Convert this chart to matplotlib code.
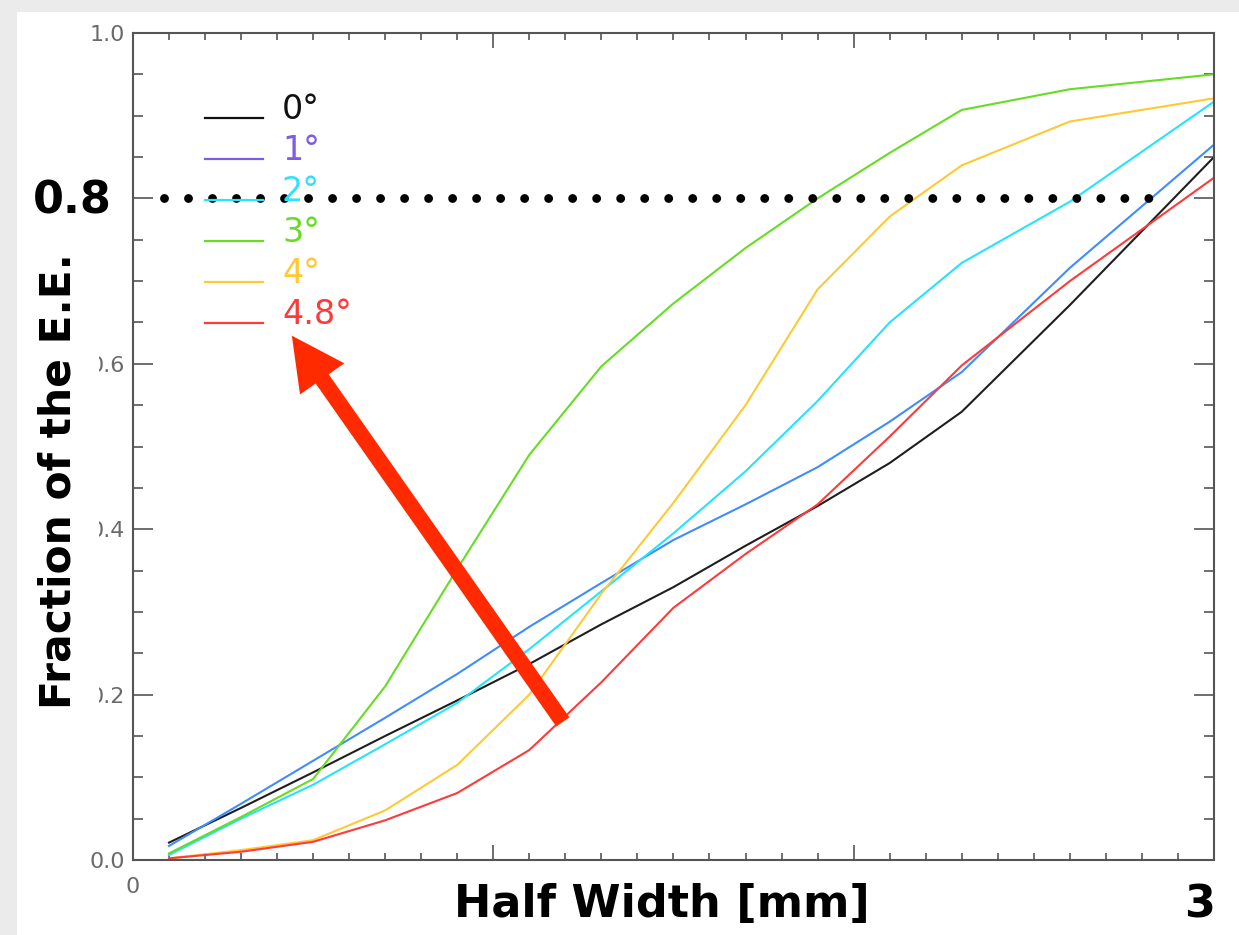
import numpy as np
import matplotlib
matplotlib.use("Agg")
import matplotlib.pyplot as plt
from matplotlib.lines import Line2D
from matplotlib.legend_handler import HandlerLine2D
from matplotlib.patches import Rectangle
from matplotlib.ticker import MultipleLocator

# ---------------- data ----------------
half_width = [0.1, 0.3, 0.5, 0.7, 0.9, 1.1, 1.3, 1.5, 1.7, 1.9, 2.1, 2.3, 2.6, 3.0]
ee_0deg = [0.021, 0.063, 0.106, 0.150, 0.193, 0.237, 0.285, 0.330, 0.380, 0.428, 0.480, 0.542, 0.671, 0.850]
ee_1deg = [0.017, 0.068, 0.120, 0.172, 0.225, 0.282, 0.335, 0.387, 0.430, 0.475, 0.530, 0.590, 0.716, 0.865]
ee_2deg = [0.006, 0.050, 0.091, 0.140, 0.190, 0.255, 0.325, 0.395, 0.470, 0.555, 0.650, 0.722, 0.796, 0.917]
ee_3deg = [0.008, 0.052, 0.098, 0.210, 0.352, 0.490, 0.597, 0.673, 0.740, 0.800, 0.855, 0.907, 0.932, 0.950]
ee_4deg = [0.002, 0.012, 0.024, 0.060, 0.115, 0.200, 0.322, 0.432, 0.550, 0.690, 0.778, 0.840, 0.893, 0.921]
ee_48deg = [0.002, 0.010, 0.022, 0.048, 0.081, 0.133, 0.215, 0.305, 0.370, 0.430, 0.512, 0.598, 0.700, 0.825]

series = [ee_0deg, ee_1deg, ee_2deg, ee_3deg, ee_4deg, ee_48deg]
angle_labels = ["0°", "1°", "2°", "3°", "4°", "4.8°"]
curve_colors = ["#1e1e1e", "#3f8cff", "#25e2ff", "#66dd22", "#ffc933", "#ff3a3a"]
legend_colors = ["#111111", "#7d5ce6", "#30e0ff", "#66dd22", "#ffc933", "#ff3a3a"]

y_ticks = [0.0, 0.2, 0.4, 0.6, 0.8, 1.0]
y_ticklabels = ["0.0", "0.2", "0.4", "0.6", "", "1.0"]
x_ticks = [0, 1, 2, 3]
x_ticklabels = ["0", "", "", ""]

threshold = 0.8
threshold_span = [0.086, 2.823]
arrow_tip = (0.441, 0.634)
arrow_tail = (1.193, 0.167)

# ---------------- figure ----------------
fig = plt.figure(figsize=(12.39, 9.35), dpi=100)
fig.patch.set_facecolor("white")
ax = fig.add_axes([0.1073, 0.0802, 0.8725, 0.8845])
ax.set_xlim(0, 3)
ax.set_ylim(0, 1)

for ys, c in zip(series, curve_colors):
    ax.plot(half_width, ys, color=c, lw=1.5, solid_joinstyle="miter")

# dotted 0.8 line
ax.plot(threshold_span, [threshold, threshold], color="black", lw=6.4,
        linestyle=(0, (0.001, 2.70)), dash_capstyle="round", zorder=4)

# red arrow
ax.annotate("", xy=arrow_tip, xytext=arrow_tail,
            arrowprops=dict(arrowstyle="simple,head_length=3.8,head_width=3.9,tail_width=1.15",
                            mutation_scale=10, color="#ff2a00", lw=0,
                            shrinkA=0, shrinkB=0), zorder=5)

# ticks
ax.set_xticks(x_ticks)
ax.set_xticklabels(x_ticklabels)
ax.xaxis.set_minor_locator(MultipleLocator(0.1))
ax.set_yticks(y_ticks)
ax.set_yticklabels(y_ticklabels)
ax.yaxis.set_minor_locator(MultipleLocator(0.05))
for lab in ax.get_xticklabels() + ax.get_yticklabels():
    lab.set_fontfamily("DejaVu Sans")
ax.tick_params(axis="x", which="major", direction="in", top=True, length=10.8, width=1.2,
               color="#555555", pad=12, labelsize=16, labelcolor="#6a6a6a")
ax.tick_params(axis="x", which="minor", direction="in", top=True, length=5, width=1.2,
               color="#555555")
ax.tick_params(axis="y", which="major", direction="in", right=True, length=14.4, width=1.2,
               color="#555555", pad=6, labelsize=16, labelcolor="#6a6a6a")
ax.tick_params(axis="y", which="minor", direction="in", right=True, length=7.2, width=1.2,
               color="#555555")
for s in ax.spines.values():
    s.set_color("#555555")
    s.set_linewidth(1.5)


# legend with line at text baseline
class BaselineHandler(HandlerLine2D):
    def create_artists(self, legend, orig_handle, xdescent, ydescent, width, height,
                       fontsize, trans):
        arts = super().create_artists(legend, orig_handle, xdescent, ydescent, width,
                                      height, fontsize, trans)
        for a in arts:
            a.set_ydata(np.full(len(a.get_xdata()), 0.03 * fontsize))
        return arts


handles = [Line2D([], [], color=c, lw=1.6) for c in legend_colors]
leg = ax.legend(handles, angle_labels, loc="upper left", bbox_to_anchor=(0.0666, 0.927),
                frameon=False, handlelength=1.73, handletextpad=0.58, labelspacing=0.24,
                borderpad=0, borderaxespad=0, handler_map={Line2D: BaselineHandler()},
                prop=dict(family="DejaVu Sans", weight="normal", size=24))
for t, c in zip(leg.get_texts(), legend_colors):
    t.set_color(c)

# slide overlay texts
bold = dict(family="DejaVu Sans", weight="bold", size=32, color="black")
fig.text(662 / 1239, 1 - 917 / 935, "Half Width [mm]", ha="center", va="baseline", **bold)
fig.text(1215 / 1239, 1 - 917 / 935, "3", ha="right", va="baseline", **bold)
fig.text(112 / 1239, 1 - 213 / 935, "0.8", ha="right", va="baseline", **bold)
fig.text(59 / 1239, 1 - 481 / 935, "Fraction of the E.E.", ha="center", va="center",
         rotation=90, bbox=dict(facecolor="white", edgecolor="none", pad=13.5),
         family="DejaVu Sans", weight="bold", size=30.5, color="black", zorder=6)

# light grey border of the slide
fig.add_artist(Rectangle((0, 1 - 12 / 935), 1, 12 / 935, transform=fig.transFigure,
                         facecolor="#ebebeb", edgecolor="none", zorder=10))
fig.add_artist(Rectangle((0, 0), 17 / 1239, 1, transform=fig.transFigure,
                         facecolor="#ebebeb", edgecolor="none", zorder=10))

fig.savefig("out.png", dpi=100, facecolor="white")
